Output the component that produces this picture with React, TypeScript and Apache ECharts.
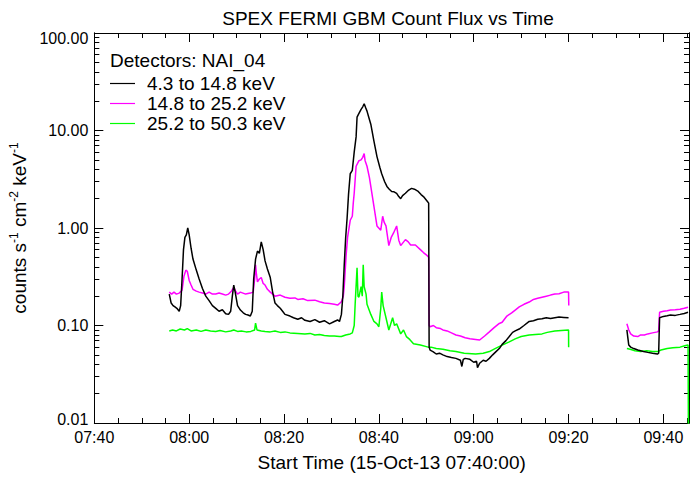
import React, { useEffect, useRef } from "react";
import * as echarts from "echarts";

const titleText = "SPEX FERMI GBM Count Flux vs Time";
const xAxisTitle = "Start Time (15-Oct-13 07:40:00)";
const detectorLabel = "Detectors: NAI_04";
const seriesNames = ["4.3 to 14.8 keV", "14.8 to 25.2 keV", "25.2 to 50.3 keV"];
const seriesColors = ["#000000", "#ff00ff", "#00ff00"];
const startMinutesOfDay = 7 * 60 + 40; // 07:40
const xMin = 0;
const xMax = 125.4; // minutes after start
const xInterval = 20;
const yMin = 0.01;
const yMax = 100;
const yMinorTicks = [
  0.02, 0.03, 0.04, 0.05, 0.06, 0.07, 0.08, 0.09,
  0.2, 0.3, 0.4, 0.5, 0.6, 0.7, 0.8, 0.9,
  2, 3, 4, 5, 6, 7, 8, 9,
  20, 30, 40, 50, 60, 70, 80, 90,
];

// [minutes after 07:40, counts s^-1 cm^-2 keV^-1]; "-" marks the data gap
const band1: (number | string)[][] = [
  [15.8, 0.21], [16.2, 0.17], [16.6, 0.16], [17.0, 0.155], [17.4, 0.15], [17.9, 0.14], [18.2, 0.16],
  [18.5, 0.3], [18.8, 0.6], [19.1, 0.8], [19.4, 0.85], [19.7, 1.0], [20.0, 0.85], [20.4, 0.62],
  [20.8, 0.48], [21.5, 0.37], [22.1, 0.3], [22.8, 0.24], [23.5, 0.2], [24.2, 0.18], [24.9, 0.16],
  [25.6, 0.15], [26.3, 0.14], [27.0, 0.145], [27.7, 0.132], [28.3, 0.13], [28.75, 0.14], [29.1, 0.2],
  [29.4, 0.26], [29.7, 0.22], [30.2, 0.16], [30.8, 0.144], [31.4, 0.135], [31.9, 0.13], [32.4, 0.128],
  [32.9, 0.125], [33.3, 0.14], [33.6, 0.3], [34.0, 0.48], [34.4, 0.58], [34.8, 0.55], [35.2, 0.72],
  [35.6, 0.6], [36.0, 0.46], [36.5, 0.38], [37.1, 0.31], [37.6, 0.22], [38.1, 0.17], [38.6, 0.16],
  [39.2, 0.15], [39.7, 0.14], [40.2, 0.13], [41.25, 0.125], [42.0, 0.12], [42.9, 0.116], [43.7, 0.12],
  [44.4, 0.113], [45.5, 0.11], [46.5, 0.115], [47.5, 0.108], [48.5, 0.112], [49.6, 0.104], [50.6, 0.11],
  [51.3, 0.114], [51.7, 0.11], [52.1, 0.13], [52.4, 0.2], [52.7, 0.42], [53.0, 0.8], [53.3, 1.26],
  [53.6, 2.2], [53.96, 3.6], [54.4, 3.9], [54.8, 6.0], [55.2, 8.6], [55.4, 13.7], [55.8, 15.0],
  [56.25, 16.5], [56.6, 17.5], [56.9, 18.8], [57.2, 17.2], [57.5, 15.8], [57.9, 13.5], [58.3, 11.6],
  [58.96, 7.8], [59.6, 5.4], [60.2, 4.2], [60.6, 3.6], [61.2, 3.0], [61.7, 2.67], [62.2, 2.5],
  [62.7, 2.37], [63.2, 2.35], [63.75, 2.27], [64.2, 2.1], [64.6, 2.0], [65.0, 2.15], [65.6, 2.27],
  [66.3, 2.45], [66.9, 2.55], [67.5, 2.5], [68.3, 2.37], [68.9, 2.2], [69.4, 2.1], [70.2, 1.88],
  [70.5, 1.8], [70.6, 0.06], [70.8, 0.056], [71.4, 0.054], [72.1, 0.051], [72.8, 0.052], [73.5, 0.05],
  [74.4, 0.048], [75.3, 0.047], [76.25, 0.046], [77.2, 0.044], [77.5, 0.038], [77.8, 0.045], [78.2, 0.046],
  [79.2, 0.045], [80.0, 0.042], [80.6, 0.043], [80.8, 0.037], [81.25, 0.041], [82.0, 0.044], [82.6, 0.043],
  [83.3, 0.046], [84.0, 0.05], [84.7, 0.054], [85.4, 0.058], [86.0, 0.064], [86.8, 0.07], [87.5, 0.077],
  [88.2, 0.085], [88.75, 0.088], [89.6, 0.092], [90.6, 0.1], [91.7, 0.11], [92.6, 0.112], [93.5, 0.116],
  [94.4, 0.117], [95.3, 0.12], [96.2, 0.118], [97.1, 0.12], [98.0, 0.122], [99.0, 0.121], [100.0, 0.12],
  [106, "-"],
  [112.3, 0.09], [112.5, 0.075], [112.7, 0.063], [113.1, 0.06], [113.75, 0.058], [114.6, 0.056],
  [115.2, 0.055], [115.8, 0.054], [116.7, 0.053], [117.7, 0.052], [118.75, 0.051], [119.0, 0.052],
  [119.2, 0.12], [120.0, 0.124], [120.8, 0.126], [121.5, 0.128], [122.5, 0.127], [123.5, 0.13],
  [124.4, 0.133], [125.2, 0.137],
];

const band2: (number | string)[][] = [
  [15.8, 0.22], [16.3, 0.21], [16.8, 0.22], [17.3, 0.21], [17.9, 0.215], [18.5, 0.23], [18.9, 0.32],
  [19.3, 0.37], [19.6, 0.36], [20.0, 0.29], [20.4, 0.26], [20.8, 0.235], [21.5, 0.225], [22.1, 0.22],
  [22.8, 0.215], [23.5, 0.21], [24.2, 0.22], [24.9, 0.21], [25.6, 0.21], [26.3, 0.215], [27.0, 0.21],
  [27.7, 0.205], [28.3, 0.21], [28.9, 0.225], [29.4, 0.246], [29.8, 0.225], [30.2, 0.21], [30.8, 0.22],
  [31.9, 0.21], [32.9, 0.215], [33.5, 0.22], [33.8, 0.3], [34.0, 0.42], [34.2, 0.33], [34.4, 0.28],
  [34.8, 0.3], [35.2, 0.31], [35.6, 0.27], [36.0, 0.26], [36.5, 0.235], [37.1, 0.22], [38.1, 0.2],
  [39.2, 0.205], [40.2, 0.195], [41.25, 0.19], [42.3, 0.192], [42.9, 0.185], [44.0, 0.188], [45.0, 0.18],
  [46.5, 0.182], [47.5, 0.175], [48.5, 0.17], [49.6, 0.168], [50.6, 0.165], [51.3, 0.162], [52.1, 0.175],
  [52.5, 0.2], [52.7, 0.25], [53.1, 0.53], [53.4, 0.8], [53.96, 1.2], [54.4, 1.32], [54.6, 1.8],
  [54.8, 2.27], [55.2, 4.3], [55.8, 4.9], [56.25, 5.0], [56.6, 5.3], [56.9, 5.8], [57.1, 4.9],
  [57.5, 4.3], [58.0, 3.3], [58.3, 2.67], [58.96, 1.67], [59.6, 1.05], [60.4, 0.95], [60.8, 1.32],
  [61.1, 1.15], [61.5, 1.05], [62.1, 0.66], [62.6, 0.8], [63.1, 0.89], [63.75, 1.05], [64.2, 0.75],
  [64.6, 0.66], [65.6, 0.76], [66.2, 0.72], [66.7, 0.67], [67.7, 0.67], [68.75, 0.6], [69.4, 0.56],
  [70.2, 0.52], [70.5, 0.5], [70.6, 0.1], [70.8, 0.097], [71.5, 0.1], [72.1, 0.095], [73.0, 0.093],
  [73.5, 0.09], [74.4, 0.088], [75.3, 0.084], [76.25, 0.08], [77.2, 0.078], [78.2, 0.075], [79.2, 0.073],
  [80.4, 0.072], [81.25, 0.071], [82.3, 0.078], [83.3, 0.086], [84.3, 0.095], [85.4, 0.105], [86.0, 0.108],
  [87.0, 0.125], [88.0, 0.135], [88.75, 0.144], [89.6, 0.155], [90.6, 0.165], [91.7, 0.174], [92.6, 0.185],
  [93.5, 0.19], [94.4, 0.195], [95.3, 0.2], [96.2, 0.205], [97.1, 0.21], [98.0, 0.212], [99.0, 0.22],
  [100.0, 0.22], [100.05, 0.16],
  [106, "-"],
  [112.3, 0.104], [112.7, 0.09], [113.1, 0.082], [113.75, 0.078], [114.6, 0.077], [115.2, 0.08],
  [116.0, 0.08], [116.7, 0.082], [117.7, 0.084], [118.75, 0.086], [119.0, 0.088], [119.2, 0.137],
  [120.0, 0.14], [120.8, 0.142], [121.5, 0.144], [122.5, 0.145], [123.5, 0.147], [124.4, 0.15], [125.2, 0.154],
];

const band3: (number | string)[][] = [
  [15.8, 0.088], [16.5, 0.09], [17.3, 0.088], [18.1, 0.092], [19.0, 0.09], [19.6, 0.093], [20.4, 0.088],
  [21.5, 0.09], [22.5, 0.087], [23.5, 0.09], [24.5, 0.088], [25.6, 0.087], [26.5, 0.089], [27.7, 0.086],
  [28.75, 0.088], [29.4, 0.09], [30.2, 0.087], [31.0, 0.088], [32.0, 0.086], [33.0, 0.087], [33.8, 0.09],
  [34.0, 0.106], [34.3, 0.09], [35.2, 0.088], [36.0, 0.087], [37.1, 0.086], [38.1, 0.088], [39.2, 0.085],
  [40.2, 0.086], [41.25, 0.084], [42.9, 0.083], [44.4, 0.082], [45.5, 0.083], [46.5, 0.08], [47.5, 0.081],
  [48.5, 0.079], [49.6, 0.078], [50.6, 0.078], [51.7, 0.077], [52.1, 0.077], [53.0, 0.08], [53.96, 0.082],
  [54.4, 0.084], [54.8, 0.1], [55.0, 0.165], [55.4, 0.39], [55.6, 0.2], [55.8, 0.195], [56.25, 0.25],
  [56.5, 0.2], [56.7, 0.42], [56.9, 0.25], [57.3, 0.21], [57.5, 0.165], [58.3, 0.13], [58.96, 0.11],
  [59.6, 0.104], [60.0, 0.097], [60.4, 0.15], [60.6, 0.22], [60.9, 0.16], [61.5, 0.12], [62.1, 0.09],
  [62.9, 0.12], [63.3, 0.1], [63.75, 0.104], [64.6, 0.082], [65.2, 0.09], [65.8, 0.077], [66.5, 0.072],
  [67.3, 0.065], [68.75, 0.063], [70.4, 0.06], [71.0, 0.06], [72.1, 0.058], [73.5, 0.057], [75.0, 0.055],
  [76.25, 0.054], [78.0, 0.052], [80.4, 0.051], [82.0, 0.052], [83.3, 0.054], [84.5, 0.058], [86.0, 0.063],
  [87.5, 0.068], [88.75, 0.073], [90.0, 0.077], [91.7, 0.08], [93.0, 0.081], [94.4, 0.082], [95.5, 0.085],
  [97.1, 0.088], [98.5, 0.089], [100.0, 0.09], [100.02, 0.06],
  [106, "-"],
  [112.3, 0.058], [113.0, 0.057], [114.0, 0.055], [115.2, 0.054], [116.5, 0.055], [117.7, 0.054],
  [118.75, 0.054], [119.5, 0.056], [120.8, 0.058], [122.0, 0.059], [123.5, 0.06], [124.5, 0.062],
  [125.2, 0.063], [125.3, 0.005],
];

const seriesData = [band1, band2, band3];

const FONT = "'Liberation Sans', Arial, Helvetica, sans-serif";

function fmtTime(v: number): string {
  const total = Math.round(startMinutesOfDay + v);
  const h = Math.floor(total / 60);
  const m = total % 60;
  return String(h).padStart(2, "0") + ":" + String(m).padStart(2, "0");
}

function fmtY(v: number): string {
  const s = Number(v).toFixed(2);
  if (Math.abs(v - yMin) < 1e-9) return "{lo|" + s + "}";
  if (Math.abs(v - yMax) < 1e-6) return "{hi|" + s + "}";
  return "{n|" + s + "}";
}

export default function App() {
  const ref = useRef<HTMLDivElement>(null);
  useEffect(() => {
    if (!ref.current) return;
    const chart = echarts.init(ref.current, null, { renderer: "svg" });
    const axisLine = { show: true, lineStyle: { color: "#000", width: 1 } };
    const tickLine = { color: "#000", width: 1 };
    const xCommon = {
      type: "value",
      min: xMin,
      max: xMax,
      interval: xInterval,
      axisLine,
      splitLine: { show: false },
      axisTick: { show: true, inside: true, length: 9, lineStyle: tickLine },
      minorTick: { show: true, splitNumber: 4, length: 5, lineStyle: tickLine },
      minorSplitLine: { show: false },
    };
    const yCommon = {
      type: "log",
      logBase: 10,
      min: yMin,
      max: yMax,
      axisLine,
      splitLine: { show: false },
    };
    const labelRich = {
      n: { fontFamily: FONT, fontSize: 16, color: "#000" },
      lo: { fontFamily: FONT, fontSize: 16, color: "#000", padding: [0, 0, 7, 0] },
      hi: { fontFamily: FONT, fontSize: 16, color: "#000", padding: [10, 0, 0, 0] },
    };
    chart.setOption({
      animation: false,
      backgroundColor: "#fff",
      title: {
        text: titleText,
        left: 388,
        textAlign: "center",
        top: 9,
        padding: 0,
        textStyle: { fontFamily: FONT, fontSize: 19, fontWeight: "normal", color: "#000" },
      },
      grid: { left: 87, right: 3, top: 33, bottom: 50, containLabel: false },
      legend: {
        orient: "vertical",
        left: 110,
        top: 74,
        padding: 0,
        itemWidth: 25,
        itemHeight: 19,
        itemGap: 1,
        icon: "path://M0,0L25,0L25,1.2L0,1.2Z",
        symbolKeepAspect: true,
        data: seriesNames,
        textStyle: { fontFamily: FONT, fontSize: 19, color: "#000", padding: [0, 0, 0, 7], lineHeight: 19 },
      },
      graphic: [
        {
          type: "text",
          left: 110,
          top: 51,
          style: { text: detectorLabel, fontFamily: FONT, fontSize: 19, fill: "#000" },
        },
      ],
      xAxis: [
        {
          ...xCommon,
          position: "bottom",
          name: xAxisTitle,
          nameLocation: "middle",
          nameGap: 30,
          nameTextStyle: { fontFamily: FONT, fontSize: 19, color: "#000" },
          axisLabel: {
            show: true,
            margin: 6,
            fontFamily: FONT,
            fontSize: 16,
            color: "#000",
            showMaxLabel: false,
            formatter: (v: number) => fmtTime(v),
          },
        },
        {
          ...xCommon,
          position: "top",
          axisLabel: { show: false },
        },
      ],
      yAxis: [
        {
          ...yCommon,
          position: "left",
          axisTick: { show: true, inside: true, length: 9, lineStyle: tickLine },
          axisLabel: {
            margin: 6,
            color: "#000",
            formatter: (v: number) => fmtY(v),
            rich: labelRich,
          },
          name: "{a|counts s}{b|-1}{a| cm}{b|-2}{a| keV}{b|-1}",
          nameLocation: "middle",
          nameRotate: 90,
          nameGap: 56,
          nameTextStyle: {
            color: "#000",
            rich: {
              a: { fontFamily: FONT, fontSize: 19, color: "#000", lineHeight: 22 },
              b: { fontFamily: FONT, fontSize: 12, color: "#000", verticalAlign: "top", lineHeight: 22 },
            },
          },
        },
        {
          ...yCommon,
          position: "left",
          axisLabel: { show: false },
          axisTick: { show: true, inside: true, length: 5, customValues: yMinorTicks, lineStyle: tickLine },
        },
        {
          ...yCommon,
          position: "right",
          axisLabel: { show: false },
          axisTick: { show: true, inside: true, length: 9, lineStyle: tickLine },
        },
        {
          ...yCommon,
          position: "right",
          axisLabel: { show: false },
          axisTick: { show: true, inside: true, length: 5, customValues: yMinorTicks, lineStyle: tickLine },
        },
      ],
      series: seriesNames.map((name, i) => ({
        name,
        type: "line",
        xAxisIndex: 0,
        yAxisIndex: 0,
        data: seriesData[i],
        showSymbol: false,
        symbol: "none",
        connectNulls: false,
        clip: true,
        color: seriesColors[i],
        lineStyle: { color: seriesColors[i], width: 1.5 },
        z: 3 - i,
      })),
    });
    return () => chart.dispose();
  }, []);
  return (
    <div
      ref={ref}
      style={{ position: "fixed", left: 0, top: 0, width: 692, height: 477, background: "#fff" }}
    />
  );
}
